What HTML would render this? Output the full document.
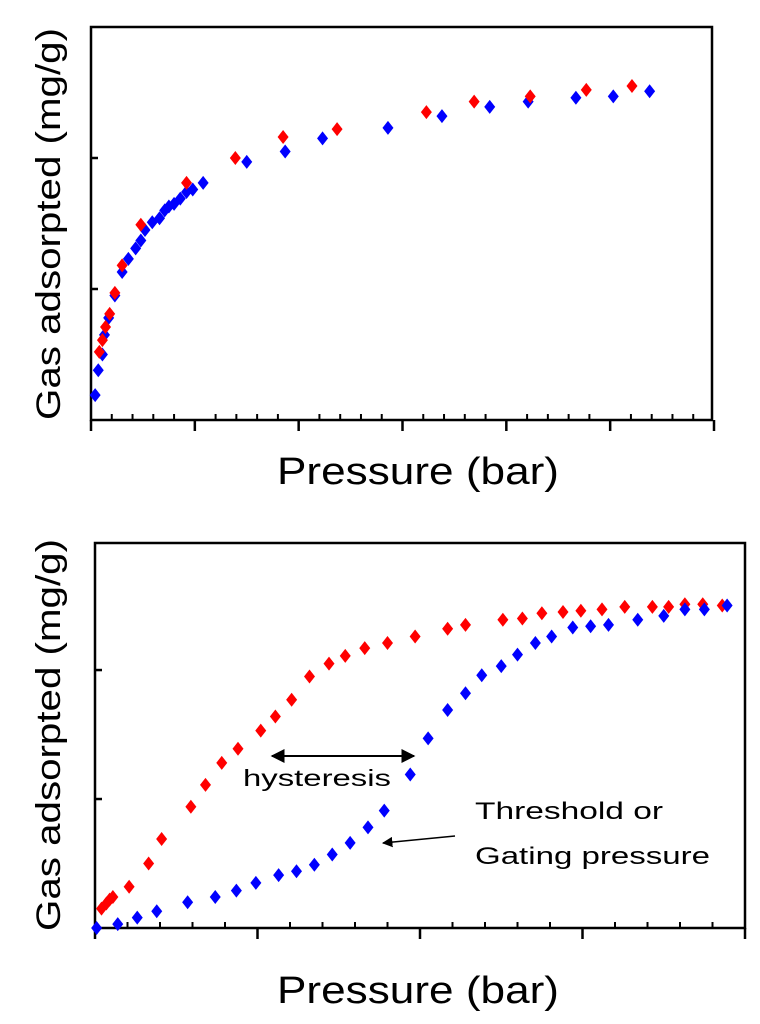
<!DOCTYPE html>
<html><head><meta charset="utf-8"><style>
html,body{margin:0;padding:0;background:#fff;}
svg{display:block;font-family:"Liberation Sans",sans-serif;}
</style></head><body>
<svg id="fig" width="760" height="1024" viewBox="0 0 760 1024" xmlns="http://www.w3.org/2000/svg">
<defs><marker id="ah" viewBox="0 0 10 10" refX="9" refY="5" markerWidth="7" markerHeight="7" orient="auto-start-reverse"><path d="M0,0 L10,5 L0,10 z" fill="#000"/></marker></defs>
<g id="top"></g>
<g id="bot"></g>
<text x="418" y="484" font-size="38" text-anchor="middle" textLength="282" lengthAdjust="spacingAndGlyphs">Pressure (bar)</text>
<text transform="translate(60,224) rotate(-90)" font-size="34" text-anchor="middle" textLength="392" lengthAdjust="spacingAndGlyphs">Gas adsorpted (mg/g)</text>
<text x="418" y="1003" font-size="38" text-anchor="middle" textLength="282" lengthAdjust="spacingAndGlyphs">Pressure (bar)</text>
<text transform="translate(60,735) rotate(-90)" font-size="34" text-anchor="middle" textLength="392" lengthAdjust="spacingAndGlyphs">Gas adsorpted (mg/g)</text>
<line x1="272" y1="756" x2="414" y2="756" stroke="#000" stroke-width="2" marker-start="url(#ah)" marker-end="url(#ah)"/>
<text x="243" y="786" font-size="23" textLength="148" lengthAdjust="spacingAndGlyphs">hysteresis</text>
<text x="475" y="819" font-size="24" textLength="188" lengthAdjust="spacingAndGlyphs">Threshold or</text>
<text x="475" y="864" font-size="24" textLength="235" lengthAdjust="spacingAndGlyphs">Gating pressure</text>
<line x1="455" y1="836" x2="383" y2="843" stroke="#000" stroke-width="1.5" marker-end="url(#ah)"/>
</svg>
<script>
const topBlueX=[0.04,0.07,0.11,0.13,0.17,0.23,0.30,0.36,0.43,0.48,0.52,0.59,0.66,0.71,0.75,0.80,0.86,0.92,0.98,1.08,1.50,1.87,2.23,2.86,3.38,3.84,4.21,4.67,5.03,5.38];
const topBlueY=[0.19,0.38,0.50,0.65,0.78,0.95,1.13,1.23,1.31,1.37,1.45,1.51,1.54,1.60,1.63,1.65,1.69,1.74,1.76,1.81,1.97,2.05,2.15,2.23,2.32,2.39,2.43,2.46,2.47,2.51];
const topRedX=[0.08,0.11,0.14,0.18,0.23,0.30,0.48,0.92,1.39,1.85,2.37,3.23,3.69,4.23,4.77,5.21];
const topRedY=[0.52,0.61,0.71,0.81,0.97,1.18,1.49,1.81,2.00,2.16,2.22,2.35,2.43,2.47,2.52,2.55];
const botRedX=[0.04,0.07,0.09,0.11,0.21,0.33,0.41,0.59,0.68,0.78,0.88,1.02,1.11,1.21,1.32,1.44,1.54,1.66,1.80,1.97,2.17,2.28,2.51,2.63,2.75,2.88,2.99,3.12,3.26,3.43,3.53,3.63,3.74,3.86];
const botRedY=[0.15,0.19,0.22,0.24,0.32,0.50,0.69,0.94,1.11,1.28,1.39,1.53,1.64,1.77,1.95,2.05,2.11,2.17,2.21,2.26,2.32,2.35,2.39,2.40,2.44,2.45,2.46,2.47,2.49,2.49,2.49,2.51,2.51,2.50];
const botBlueX=[0.01,0.14,0.26,0.38,0.57,0.74,0.87,0.99,1.13,1.24,1.35,1.46,1.57,1.68,1.78,1.94,2.05,2.17,2.28,2.38,2.50,2.60,2.71,2.81,2.94,3.05,3.16,3.34,3.50,3.63,3.75,3.89];
const botBlueY=[0.00,0.03,0.08,0.13,0.20,0.24,0.29,0.35,0.41,0.44,0.49,0.57,0.66,0.78,0.91,1.19,1.47,1.69,1.82,1.96,2.03,2.12,2.21,2.26,2.33,2.34,2.35,2.39,2.42,2.47,2.47,2.50];
const topXTicks=[0,1,2,3,4,5,6];
const topYTicks=[1,2];
const botXTicks=[0,1,2,3,4];
const botYTicks=[1,2];

const NS="http://www.w3.org/2000/svg";
function mk(parent,tag,attrs){const e=document.createElementNS(NS,tag);for(const k in attrs)e.setAttribute(k,attrs[k]);parent.appendChild(e);return e;}

function chart(g,L,R,T,B,xmax,ymax,xTicks,yTicks,series,prefix){
  const sx=v=>L+v/xmax*(R-L);
  const sy=v=>B-v/ymax*(B-T);
  const fr=mk(g,'rect',{x:L,y:T,width:R-L,height:B-T,fill:'none',stroke:'#000','stroke-width':2.5});
  
  
  xTicks.forEach((t,i)=>{
    const x=sx(t);
    const tk=mk(g,'line',{x1:x,y1:B,x2:x,y2:B+11,stroke:'#000','stroke-width':2.5});
    
    
    if(i<xTicks.length-1){
      for(let m=1;m<5;m++){
        const xm=sx(t+m*(xTicks[1]-xTicks[0])/5);
        const mt=mk(g,'line',{x1:xm,y1:B,x2:xm,y2:B-6,stroke:'#000','stroke-width':2});
        
        
      }
    }
  });
  yTicks.forEach(t=>{
    const y=sy(t);
    const tk=mk(g,'line',{x1:L,y1:y,x2:L+7,y2:y,stroke:'#000','stroke-width':2.5});
    
    
  });
  series.forEach(s=>{
    s.x.forEach((xv,i)=>{
      const cx=sx(xv),cy=sy(s.y[i]);
      const p=mk(g,'path',{d:`M${cx},${cy-7} L${cx+5.5},${cy} L${cx},${cy+7} L${cx-5.5},${cy} Z`,fill:s.c});
      
      
    });
  });
}
chart(document.getElementById('top'),91,712,27,420,6*(712-91)/(713-90),3.0,topXTicks,topYTicks,
  [{x:topBlueX,y:topBlueY,c:'#0000ff',n:'desorption-blue'},{x:topRedX,y:topRedY,c:'#ff0000',n:'adsorption-red'}],'top');
chart(document.getElementById('bot'),95,745,543,928,4,2.985,botXTicks,botYTicks,
  [{x:botRedX,y:botRedY,c:'#ff0000',n:'desorption-red'},{x:botBlueX,y:botBlueY,c:'#0000ff',n:'adsorption-blue'}],'bottom');
</script>
</body></html>
